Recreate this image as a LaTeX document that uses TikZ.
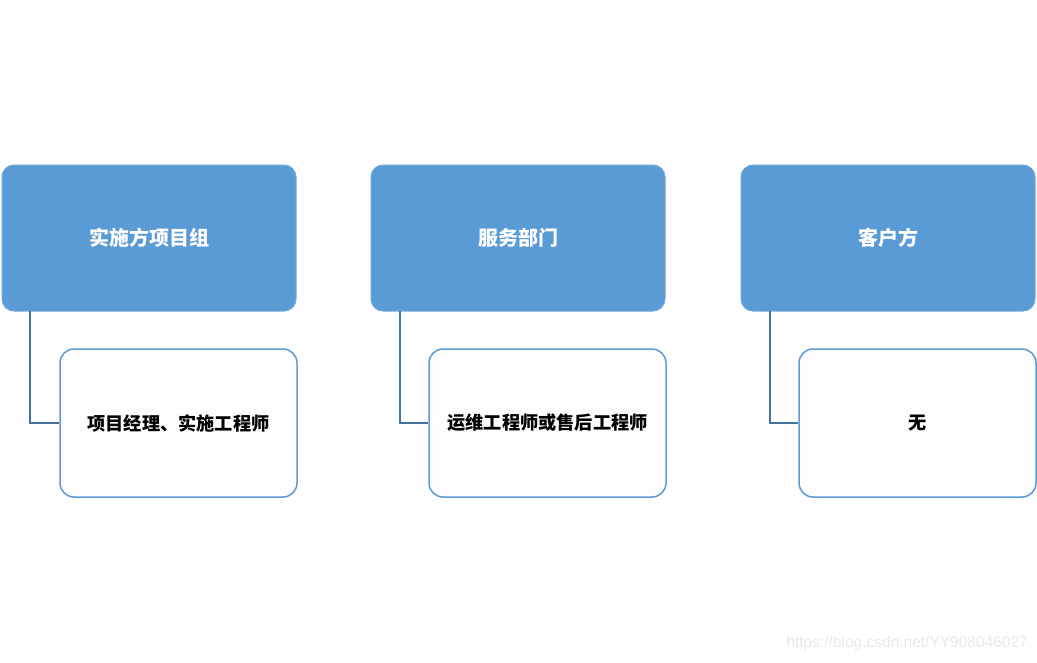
\documentclass[tikz,border=0pt]{standalone}
\usepackage{fontspec}
\setmainfont{Liberation Sans}
\newfontfamily\cjk{Noto Sans CJK SC}
\usetikzlibrary{positioning}
\definecolor{topfill}{HTML}{5B9BD5}
\definecolor{topline}{HTML}{6FA8DC}
\definecolor{childline}{HTML}{5B9BD5}
\definecolor{childfill}{HTML}{FDFDFD}
\definecolor{linkcol}{HTML}{41719C}
\definecolor{wm}{HTML}{E8E8E8}
\tikzset{
  topbox/.style={draw=topline, line width=1pt, fill=topfill, rounded corners=12pt,
    minimum width=294pt, minimum height=146pt, inner sep=0pt,
    font=\cjk\bfseries\fontsize{20}{24}\selectfont, text=white},
  childbox/.style={draw=childline, line width=1.5pt, fill=childfill, rounded corners=14pt,
    minimum width=237pt, minimum height=148pt, inner sep=0pt,
    font=\cjk\bfseries\fontsize{18.2}{22}\selectfont, text=black},
  link/.style={draw=linkcol, line width=2pt}
}
\begin{document}
\begin{tikzpicture}[x=1pt,y=-1pt]
\useasboundingbox (0,0) rectangle (1037,662);
\node[topbox] (t1) at (149,238) {实施方项目组};
\node[topbox] (t2) at (518,238) {服务部门};
\node[topbox] (t3) at (888,238) {客户方};
\node[childbox] (c1) at (178.5,423) {项目经理、实施工程师};
\node[childbox] (c2) at (547.5,423) {运维工程师或售后工程师};
\node[childbox] (c3) at (917.5,423) {无};
\coordinate (s1) at (30,311);
\coordinate (s2) at (400,311);
\coordinate (s3) at (770,311);
\draw[link] (s1) |- (c1.west);
\draw[link] (s2) |- (c2.west);
\draw[link] (s3) |- (c3.west);
\node[text=wm, font=\fontsize{15.5}{18}\selectfont, anchor=east, inner sep=0pt] (wmk) at (1028,643) {https://blog.csdn.net/YY908046027};
\end{tikzpicture}
\end{document}
